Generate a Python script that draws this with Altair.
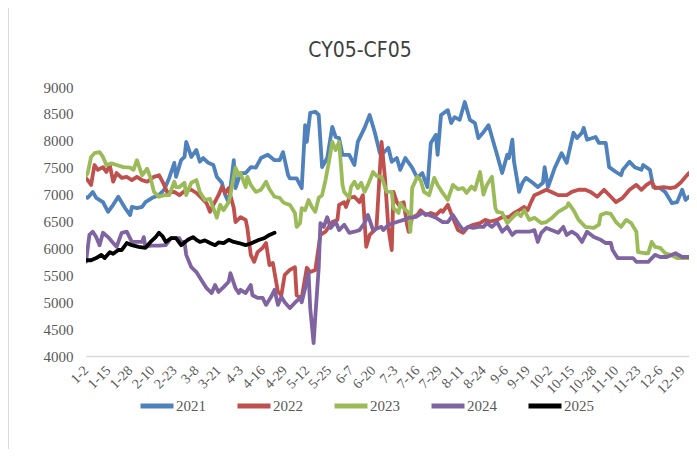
import json
import altair as alt
import pandas as pd

title_text = "CY05-CF05"
series_names = ["2021", "2022", "2023", "2024", "2025"]
series_colors = ["#4F81BD", "#C0504D", "#9BBB59", "#8064A2", "#000000"]
tick_labels = ["1-2", "1-15", "1-28", "2-10", "2-23", "3-8", "3-21", "4-3", "4-16", "4-29",
               "5-12", "5-25", "6-7", "6-20", "7-3", "7-16", "7-29", "8-11", "8-24", "9-6",
               "9-19", "10-2", "10-15", "10-28", "11-10", "11-23", "12-6", "12-19"]
tick_days = [0, 13, 26, 39, 52, 65, 78, 91, 104, 117, 130, 143, 156, 169, 182, 195, 208,
             221, 234, 247, 260, 273, 286, 299, 312, 325, 338, 351]
y_ticks = [4000, 4500, 5000, 5500, 6000, 6500, 7000, 7500, 8000, 8500, 9000]

# (day offset from 1-2, value)
s2021 = [(0, 6950), (1, 6940), (4, 7050), (6, 6940), (10, 6860), (13, 6680), (16, 6810), (19, 6960),
         (23, 6750), (26, 6620), (27, 6770), (30, 6750), (33, 6770), (35, 6860), (39, 6940), (43, 6990),
         (46, 7090), (49, 7310), (52, 7590), (53, 7330), (56, 7640), (58, 7700), (59, 7980), (62, 7700),
         (65, 7830), (67, 7610), (69, 7680), (72, 7590), (75, 7550), (77, 7330), (80, 7220), (82, 6990),
         (84, 6860), (87, 7640), (88, 7120), (91, 7400), (94, 7400), (97, 7510), (100, 7500), (103, 7680),
         (107, 7740), (111, 7640), (114, 7640), (116, 7790), (119, 7360), (120, 7300), (124, 7300),
         (127, 7120), (129, 8290), (130, 7980), (132, 8520), (135, 8540), (137, 8480), (139, 7510),
         (142, 7680), (145, 8260), (147, 8070), (149, 8050), (151, 7740), (155, 7740), (158, 7550),
         (160, 7980), (164, 8240), (167, 8480), (170, 8160), (173, 7770), (174, 7740), (178, 7870),
         (180, 7610), (183, 7680), (185, 7460), (188, 7680), (192, 7500), (195, 7310), (198, 7400),
         (201, 7140), (203, 7960), (206, 8110), (207, 7740), (209, 8480), (213, 8570), (215, 8330),
         (217, 8440), (220, 8390), (223, 8720), (226, 8390), (229, 8330), (231, 8050), (234, 8160),
         (237, 8290), (242, 7740), (245, 7400), (248, 7740), (249, 7680), (251, 8020), (252, 7610),
         (255, 7050), (257, 7220), (259, 7310), (263, 7220), (266, 7140), (269, 7220), (270, 7510),
         (272, 7140), (276, 7500), (280, 7770), (283, 7590), (284, 7740), (287, 8150), (289, 8050),
         (292, 8150), (293, 8240), (295, 8020), (300, 8070), (302, 7960), (306, 7960), (308, 7510),
         (312, 7420), (315, 7360), (316, 7460), (320, 7610), (323, 7510), (327, 7460), (328, 7550),
         (332, 7460), (334, 7140), (338, 7120), (341, 7050), (345, 6840), (348, 6860), (351, 7090),
         (353, 6900), (355, 6960)]

s2022 = [(0, 7300), (1, 7270), (3, 7180), (5, 7550), (7, 7460), (10, 7510), (12, 7420), (14, 7550),
         (16, 7240), (18, 7400), (21, 7310), (24, 7330), (27, 7270), (30, 7330), (33, 7270), (36, 7240),
         (40, 7330), (43, 7360), (46, 7180), (48, 7030), (52, 7050), (55, 6990), (59, 7090), (62, 7090),
         (65, 7030), (68, 6940), (71, 6840), (73, 6680), (75, 6810), (78, 6990), (80, 7140), (82, 7030),
         (84, 7120), (85, 6990), (87, 6750), (88, 6490), (91, 6580), (94, 6530), (95, 6380), (97, 5880),
         (99, 5750), (101, 5930), (104, 6010), (106, 6100), (108, 5690), (110, 5730), (113, 5190),
         (115, 5130), (117, 5510), (120, 5600), (123, 5650), (124, 5130), (127, 5080), (130, 5640),
         (132, 5560), (135, 5600), (138, 6250), (141, 6310), (143, 6400), (145, 6490), (148, 6530),
         (149, 6810), (152, 6860), (153, 6770), (155, 6940), (158, 6960), (161, 6860), (163, 6990),
         (165, 6030), (167, 6250), (169, 6310), (171, 6380), (174, 7980), (176, 7310), (178, 6380),
         (180, 5970), (181, 7050), (183, 6860), (184, 6810), (187, 6860), (189, 6440), (190, 6310),
         (192, 6570), (195, 6620), (197, 6710), (200, 6620), (203, 6660), (206, 6620), (209, 6710),
         (210, 6680), (213, 6810), (216, 6570), (219, 6340), (222, 6290), (225, 6400), (228, 6440),
         (232, 6470), (235, 6530), (238, 6500), (242, 6530), (245, 6580), (249, 6580), (252, 6660),
         (255, 6710), (258, 6770), (260, 6710), (262, 6860), (264, 6990), (267, 7030), (271, 7090),
         (274, 7050), (278, 6990), (283, 6990), (286, 7050), (290, 7090), (294, 7090), (297, 7050),
         (301, 6960), (305, 7090), (309, 6960), (312, 6860), (316, 6940), (320, 7090), (324, 7180),
         (327, 7090), (330, 7180), (333, 7240), (335, 7120), (340, 7140), (344, 7120), (347, 7140),
         (350, 7220), (353, 7330), (355, 7400)]

s2023 = [(0, 7350), (1, 7400), (3, 7700), (5, 7770), (8, 7790), (10, 7700), (12, 7550), (15, 7580),
         (18, 7550), (22, 7510), (26, 7500), (28, 7460), (30, 7640), (33, 7360), (36, 7480), (38, 7310),
         (40, 7050), (43, 6960), (46, 6990), (49, 6990), (52, 7240), (53, 7140), (55, 7140), (58, 7220),
         (59, 6990), (62, 7220), (65, 7270), (67, 7050), (70, 6900), (73, 6920), (75, 6750), (77, 6570),
         (79, 6810), (81, 6710), (84, 6860), (85, 6990), (88, 7500), (90, 7360), (91, 7400), (94, 7140),
         (95, 7330), (97, 7180), (100, 7050), (103, 7090), (106, 7240), (108, 7100), (111, 6960),
         (114, 6940), (116, 6860), (117, 6840), (120, 6810), (123, 6660), (124, 6400), (126, 6470),
         (127, 6750), (129, 6710), (131, 6900), (133, 6770), (135, 6680), (137, 6940), (139, 6990),
         (141, 7270), (143, 7610), (145, 7980), (147, 7830), (149, 7980), (151, 7180), (152, 7050),
         (155, 6940), (156, 7140), (158, 7240), (160, 7120), (162, 7220), (164, 7050), (166, 7180),
         (169, 7420), (171, 7350), (174, 7330), (177, 7050), (180, 7050), (181, 6750), (184, 6660),
         (185, 6840), (187, 6750), (190, 6660), (191, 6310), (192, 7120), (195, 7330), (197, 7270),
         (199, 7050), (202, 6990), (205, 7310), (207, 7180), (210, 7030), (213, 6900), (216, 7180),
         (219, 7100), (222, 7120), (224, 7030), (227, 7150), (229, 7090), (232, 7420), (234, 7000),
         (236, 7180), (239, 7330), (241, 6750), (242, 6680), (245, 6660), (248, 6470), (251, 6570),
         (254, 6660), (256, 6600), (258, 6710), (261, 6530), (264, 6570), (268, 6470), (271, 6490),
         (274, 6560), (278, 6680), (283, 6770), (284, 6840), (287, 6710), (290, 6530), (294, 6400),
         (299, 6380), (302, 6440), (303, 6620), (306, 6660), (309, 6640), (312, 6490), (315, 6400),
         (318, 6530), (321, 6470), (324, 6310), (325, 5930), (329, 5910), (331, 5910), (333, 6120),
         (335, 6030), (338, 6010), (341, 5910), (344, 5880), (348, 5820), (352, 5820), (355, 5820)]

s2024 = [(0, 5750), (2, 6250), (4, 6310), (6, 6210), (8, 6060), (10, 6290), (13, 6210), (16, 6100),
         (18, 6030), (21, 6290), (24, 6310), (27, 6120), (30, 6120), (33, 6120), (34, 6210), (35, 6030),
         (38, 6050), (43, 6050), (47, 6060), (50, 6190), (53, 6190), (55, 6190), (56, 6120), (58, 6120),
         (59, 5880), (62, 5650), (65, 5560), (68, 5410), (71, 5260), (74, 5170), (76, 5320), (78, 5190),
         (81, 5280), (84, 5380), (85, 5540), (88, 5260), (90, 5170), (91, 5230), (94, 5170), (97, 5320),
         (98, 5130), (101, 5080), (104, 5080), (106, 4950), (109, 5100), (111, 5230), (113, 4950),
         (115, 5100), (117, 5000), (120, 4890), (123, 4990), (126, 5080), (127, 5000), (129, 5260),
         (131, 5560), (132, 4890), (134, 4240), (135, 4730), (137, 5640), (138, 6470), (140, 6400),
         (142, 6580), (144, 6380), (147, 6490), (149, 6340), (152, 6440), (155, 6290), (158, 6310),
         (161, 6340), (164, 6470), (166, 6620), (169, 6340), (172, 6380), (174, 6400), (175, 6340),
         (178, 6440), (183, 6490), (187, 6530), (190, 6570), (194, 6580), (198, 6660), (202, 6620),
         (206, 6570), (210, 6490), (213, 6490), (216, 6620), (219, 6470), (222, 6340), (225, 6400),
         (228, 6380), (231, 6400), (234, 6400), (236, 6470), (239, 6400), (242, 6490), (245, 6310),
         (248, 6400), (251, 6250), (253, 6310), (257, 6310), (261, 6310), (264, 6340), (266, 6120),
         (268, 6290), (271, 6380), (274, 6340), (278, 6290), (281, 6400), (283, 6250), (286, 6310),
         (289, 6250), (292, 6120), (295, 6310), (299, 6210), (303, 6160), (306, 6100), (309, 6100),
         (310, 5970), (313, 5820), (316, 5820), (319, 5820), (322, 5820), (324, 5750), (328, 5750),
         (331, 5750), (335, 5880), (338, 5840), (342, 5840), (347, 5910), (351, 5840), (355, 5840)]

s2025 = [(0, 5780), (3, 5780), (6, 5820), (9, 5880), (11, 5820), (14, 5930), (16, 5900), (19, 5970),
         (21, 5970), (24, 6100), (27, 6060), (31, 6030), (35, 6010), (38, 6120), (41, 6210), (43, 6290),
         (45, 6230), (47, 6120), (50, 6190), (53, 6190), (56, 6060), (58, 6110), (60, 6160), (63, 6210),
         (65, 6160), (67, 6120), (70, 6150), (73, 6100), (76, 6060), (78, 6110), (81, 6100), (84, 6160),
         (87, 6120), (90, 6100), (94, 6060), (97, 6090), (99, 6120), (102, 6160), (105, 6190),
         (108, 6250), (111, 6290)]

rows = []
for name, pts in zip(series_names, [s2021, s2022, s2023, s2024, s2025]):
    for d, v in pts:
        rows.append({"day": d, "value": v, "year": name})
df = pd.DataFrame(rows)

serif = "Liberation Serif"
label_color = "#595959"
label_expr = f"{json.dumps(tick_labels)}[indexof({json.dumps(tick_days)}, datum.value)]"

lines = alt.Chart(df).mark_line(strokeWidth=3.8, clip=True, strokeJoin="round", strokeCap="round").encode(
    x=alt.X("day:Q",
            scale=alt.Scale(domain=[0, 355], nice=False, zero=False),
            axis=alt.Axis(values=tick_days, labelExpr=label_expr, labelAngle=-45, labelAlign="right",
                          labelBaseline="middle", labelPadding=12, labelFont=serif, labelFontSize=14,
                          labelColor=label_color, ticks=False, grid=False, domainColor="#D9D9D9",
                          domainWidth=1.5, title=None, labelOverlap=False)),
    y=alt.Y("value:Q",
            scale=alt.Scale(domain=[4000, 9000], nice=False, zero=False),
            axis=alt.Axis(values=y_ticks, format="d", domain=False, ticks=False, grid=False,
                          labelFont=serif, labelFontSize=15, labelColor=label_color, labelPadding=13,
                          title=None)),
    color=alt.Color("year:N",
                    scale=alt.Scale(domain=series_names, range=series_colors),
                    legend=alt.Legend(orient="none", legendX=52, legendY=300, direction="horizontal",
                                      title=None, symbolType="stroke", symbolSize=1089,
                                      symbolStrokeWidth=5, labelFont=serif, labelFontSize=15,
                                      labelColor=label_color, labelOffset=0, columnPadding=21)),
)

border = alt.Chart(pd.DataFrame({"k": [0]})).mark_rule(color="#D9D9D9", strokeWidth=1).encode(
    x=alt.value(-77.5), y=alt.value(-79), y2=alt.value(362)
)

title_mark = alt.Chart(pd.DataFrame({"t": [title_text]})).mark_text(
    font="Liberation Sans Narrow, DejaVu Sans Condensed, Liberation Sans",
    fontSize=21, color="#404040", align="center", baseline="middle"
).encode(text="t:N", x=alt.value(274), y=alt.value(-36))

chart = alt.layer(border, lines, title_mark).properties(
    width=603,
    height=269,
    autosize=alt.AutoSizeParams(type="none"),
    padding={"left": 78, "top": 79, "right": 0, "bottom": 93},
).configure_view(stroke=None)

chart.save("out.html", embed_options={"renderer": "svg", "actions": False})
